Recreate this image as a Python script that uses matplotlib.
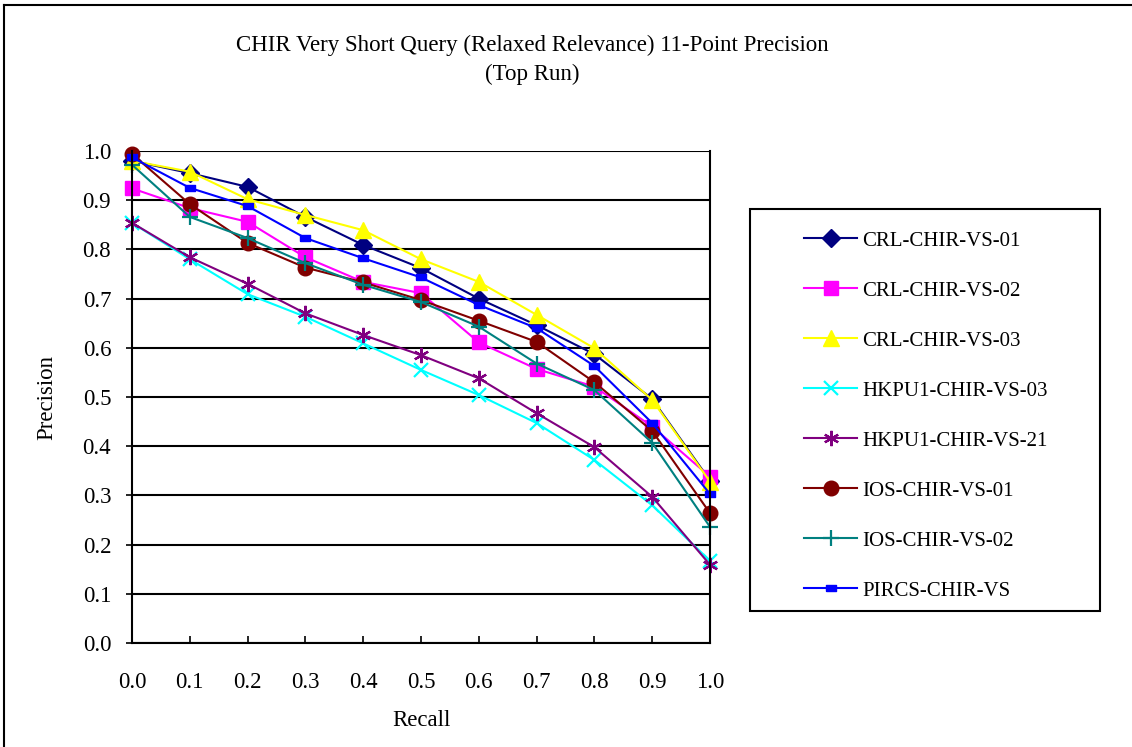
import matplotlib
matplotlib.use("Agg")
import matplotlib.pyplot as plt
from matplotlib.patches import Rectangle
from matplotlib.lines import Line2D

plt.rcParams['font.family'] = ['Liberation Serif', 'DejaVu Serif']

recall = [0.0, 0.1, 0.2, 0.3, 0.4, 0.5, 0.6, 0.7, 0.8, 0.9, 1.0]
x_ticklabels = ["0.0", "0.1", "0.2", "0.3", "0.4", "0.5", "0.6", "0.7", "0.8", "0.9", "1.0"]
y_ticklabels = ["0.0", "0.1", "0.2", "0.3", "0.4", "0.5", "0.6", "0.7", "0.8", "0.9", "1.0"]

crl_01 = [0.980, 0.955, 0.927, 0.866, 0.809, 0.762, 0.700, 0.646, 0.587, 0.496, 0.330]
crl_02 = [0.924, 0.884, 0.856, 0.784, 0.734, 0.711, 0.611, 0.557, 0.521, 0.440, 0.338]
crl_03 = [0.980, 0.958, 0.902, 0.870, 0.839, 0.780, 0.734, 0.667, 0.599, 0.494, 0.328]
hkpu_03 = [0.854, 0.780, 0.709, 0.663, 0.609, 0.555, 0.504, 0.447, 0.372, 0.280, 0.167]
hkpu_21 = [0.854, 0.784, 0.730, 0.670, 0.626, 0.585, 0.538, 0.467, 0.398, 0.297, 0.159]
ios_01 = [0.994, 0.892, 0.813, 0.763, 0.733, 0.697, 0.655, 0.612, 0.530, 0.431, 0.264]
ios_02 = [0.972, 0.866, 0.823, 0.772, 0.728, 0.693, 0.643, 0.568, 0.514, 0.407, 0.236]
pircs = [0.987, 0.925, 0.888, 0.823, 0.782, 0.743, 0.687, 0.640, 0.563, 0.447, 0.303]

series_names = ["CRL-CHIR-VS-01", "CRL-CHIR-VS-02", "CRL-CHIR-VS-03", "HKPU1-CHIR-VS-03",
                "HKPU1-CHIR-VS-21", "IOS-CHIR-VS-01", "IOS-CHIR-VS-02", "PIRCS-CHIR-VS"]
series_values = [crl_01, crl_02, crl_03, hkpu_03, hkpu_21, ios_01, ios_02, pircs]

title = "CHIR Very Short Query (Relaxed Relevance) 11-Point Precision\n(Top Run)"

FS = 16.5
LFS = 15
W, H = 1132, 747
fig = plt.figure(figsize=(W / 100, H / 100), dpi=100)

def fx(px):
    return px / W

def fy(py):
    return 1 - py / H

ax_l, ax_r, ax_t, ax_b = 132, 710, 151, 643
ax = fig.add_axes([fx(ax_l), fy(ax_b), fx(ax_r - ax_l), (ax_b - ax_t) / H])

rect_marker = [(-1, -0.55), (1, -0.55), (1, 0.55), (-1, 0.55), (-1, -0.55)]
styles = [
    dict(color="#000080", marker="D", ms=9.5, mfc="#000080", mec="#000080"),
    dict(color="#FF00FF", marker="s", ms=10.5, mfc="#FF00FF", mec="#FF00FF"),
    dict(color="#FFFF00", marker="^", ms=11.5, mfc="#FFFF00", mec="#FFFF00"),
    dict(color="#00FFFF", marker="x", ms=10, mew=1.6),
    dict(color="#800080", marker=(6, 2, 0), ms=11, mew=1.6),
    dict(color="#800000", marker="o", ms=10.5, mfc="#800000", mec="#800000"),
    dict(color="#008080", marker="+", ms=12, mew=1.6),
    dict(color="#0000FF", marker=rect_marker, ms=7, mfc="#0000FF", mec="#0000FF"),
]

handles = []
for name, vals, st in zip(series_names, series_values, styles):
    h, = ax.plot(recall, vals, lw=1.5, label=name, clip_on=False, **st)
    handles.append(h)

ax.set_xlim(0, 1.0)
ax.set_ylim(0, 1.0)
ax.set_xticks(recall)
ax.set_xticklabels(x_ticklabels)
ax.set_yticks([i / 10 for i in range(11)])
ax.set_yticklabels(y_ticklabels)
ax.yaxis.grid(True, color="black", lw=1.5)
ax.set_axisbelow(True)
for s in ax.spines.values():
    s.set_color("black")
    s.set_linewidth(1.5)
ax.spines['top'].set_visible(False)
ax.tick_params(axis='x', direction='in', length=5, width=1.2, pad=21, labelsize=FS)
ax.tick_params(axis='y', direction='out', length=4, width=1.2, pad=11, labelsize=FS)

ax.set_xlabel("Recall", fontsize=FS, labelpad=12)
ax.set_ylabel("Precision", fontsize=FS, labelpad=18)

fig.text(fx(532), fy(60), title, ha="center", va="center", fontsize=FS, linespacing=1.45)

# legend box
lg_l, lg_t, lg_r, lg_b = 750, 209, 1100, 611
fig.add_artist(Rectangle((fx(lg_l), fy(lg_b)), fx(lg_r - lg_l), (lg_b - lg_t) / H,
                         transform=fig.transFigure, fill=False, ec="black", lw=1.5))
fig.legend(handles=handles, loc="upper left", bbox_to_anchor=(fx(804), fy(231)),
           frameon=False, fontsize=LFS, handlelength=2.55, handletextpad=0.25,
           labelspacing=1.46, borderpad=0, borderaxespad=0)

# outer figure border (top and left)
fig.add_artist(Line2D([fx(4), fx(4)], [fy(5), 0], transform=fig.transFigure, color="black", lw=1.5))
fig.add_artist(Line2D([fx(4), 1], [fy(5), fy(5)], transform=fig.transFigure, color="black", lw=1.5))

fig.savefig("out.png", dpi=100)
